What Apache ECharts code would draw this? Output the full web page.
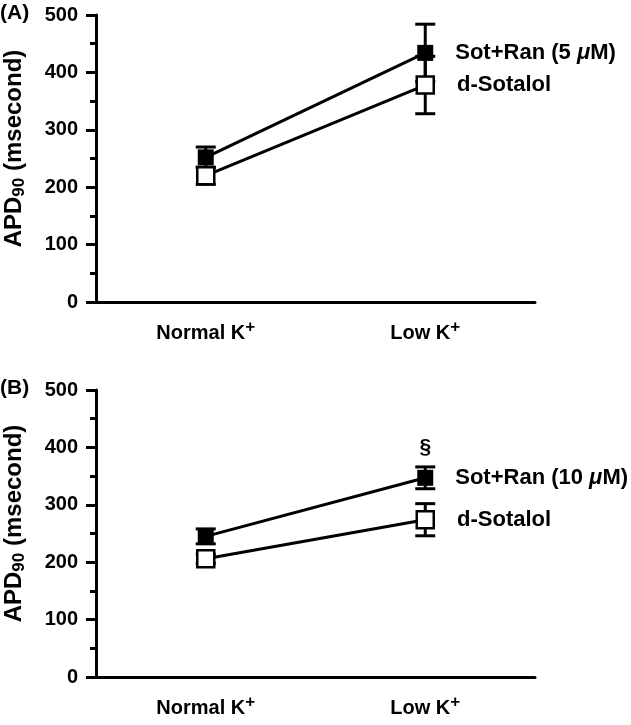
<!DOCTYPE html>
<html>
<head>
<meta charset="utf-8">
<script src="https://cdn.jsdelivr.net/npm/echarts@6/dist/echarts.min.js"></script>
<style>
html,body{margin:0;padding:0;background:#fff}
#main{width:631px;height:725px}
</style>
</head>
<body>
<div id="main"></div>
<script>
// 数据
var categories = ['Normal K+', 'Low K+'];
var sotRan5 = [252, 434];
var sotRan5Sem = [18, 50];
var dSotA = [220, 378];
var dSotASem = [15, 50];
var sotRan10 = [245, 347];
var sotRan10Sem = [13, 19];
var dSotB = [206, 274];
var dSotBSem = [8, 28];
var sigB = ['', '§'];

var FONT = 'Liberation Sans, Arial, sans-serif';

// 误差线
function makeErr(gi, means, sems, marks, z){
	var data = means.map(function(m, i){ return [i, m, sems[i]]; });
	return {
		type: 'custom',
		xAxisIndex: gi,
		yAxisIndex: gi,
		z: z,
		silent: true,
		data: data,
		encode: {x: 0, y: 1},
		renderItem: function(params, api){
			var x = api.value(0), m = api.value(1), s = api.value(2);
			var hi = api.coord([x, m + s]);
			var lo = api.coord([x, m - s]);
			var w = 10;
			var st = {stroke: '#000', lineWidth: 3};
			var children = [
				{type: 'line', shape: {x1: hi[0], y1: hi[1], x2: lo[0], y2: lo[1]}, style: st},
				{type: 'line', shape: {x1: hi[0] - w, y1: hi[1], x2: hi[0] + w, y2: hi[1]}, style: st},
				{type: 'line', shape: {x1: lo[0] - w, y1: lo[1], x2: lo[0] + w, y2: lo[1]}, style: st}
			];
			if (marks && marks[params.dataIndex]) {
				children.push({type: 'text', style: {
					text: marks[params.dataIndex], x: hi[0], y: hi[1] - 9,
					align: 'center', verticalAlign: 'bottom',
					fontSize: 21, fontWeight: 'bold', fontFamily: FONT, fill: '#000'
				}});
			}
			return {type: 'group', children: children};
		}
	};
}

// 折线
function makeLine(gi, name, label, vals, filled, z){
	var last = vals.length - 1;
	return {
		type: 'line',
		name: name,
		xAxisIndex: gi,
		yAxisIndex: gi,
		z: z,
		symbol: 'rect',
		symbolSize: filled ? 16 : 17,
		lineStyle: {color: '#000', width: 3},
		itemStyle: filled ? {color: '#000'} : {color: '#fff', borderColor: '#000', borderWidth: 2.5},
		data: vals.map(function(v, i){
			if (i !== last) return v;
			return {value: v, label: {
				show: true, position: 'right', distance: 22,
				formatter: label,
				color: '#000', fontSize: 22, fontWeight: 'bold', fontFamily: FONT,
				rich: {mu: {fontSize: 22, fontWeight: 'bold', fontStyle: 'italic', fontFamily: FONT, color: '#000'}}
			}};
		})
	};
}

function xAx(gi){
	return {
		type: 'category', gridIndex: gi, data: categories, boundaryGap: true,
		axisLine: {lineStyle: {color: '#000', width: 3}},
		axisTick: {alignWithLabel: true, length: 9, lineStyle: {color: '#000', width: 3}},
		axisLabel: {
			margin: 17, color: '#000', fontSize: 20, fontWeight: 'bold', fontFamily: FONT,
			formatter: function(v){ return v.replace('+', '{sup|+}'); },
			rich: {sup: {fontSize: 17, fontWeight: 'bold', fontFamily: FONT, color: '#000', padding: [0, 0, 11, 0]}}
		}
	};
}

function yAx(gi){
	return {
		type: 'value', gridIndex: gi, min: 0, max: 500, interval: 100,
		axisLine: {show: true, lineStyle: {color: '#000', width: 3}},
		axisTick: {show: true, length: 10, lineStyle: {color: '#000', width: 3}},
		minorTick: {show: true, splitNumber: 2, length: 6, lineStyle: {color: '#000', width: 3}},
		splitLine: {show: false},
		minorSplitLine: {show: false},
		axisLabel: {color: '#000', fontSize: 20, fontWeight: 'bold', fontFamily: FONT, margin: 18},
		name: 'APD{sub|90} (msecond)',
		nameLocation: 'middle',
		nameRotate: 90,
		nameGap: 68,
		nameTextStyle: {
			color: '#000', fontSize: 24, fontWeight: 'bold', fontFamily: FONT,
			padding: [0, 0, 0, 20],
			rich: {sub: {fontSize: 17, fontWeight: 'bold', fontFamily: FONT, color: '#000', padding: [10, 0, 0, 0]}}
		}
	};
}

var myChart = echarts.init(document.getElementById('main'));
var option = {
	animation: false,
	backgroundColor: '#fff',
	title: [
		{text: '(A)', left: 0, top: 3, padding: 0, textStyle: {color: '#000', fontSize: 21, fontWeight: 'bold', fontFamily: FONT}},
		{text: '(B)', left: 0, top: 378, padding: 0, textStyle: {color: '#000', fontSize: 21, fontWeight: 'bold', fontFamily: FONT}}
	],
	grid: [
		{left: 96, right: 96, top: 15, height: 287, outerBoundsMode: 'none', containLabel: false},
		{left: 96, right: 96, top: 390, height: 287, outerBoundsMode: 'none', containLabel: false}
	],
	xAxis: [xAx(0), xAx(1)],
	yAxis: [yAx(0), yAx(1)],
	series: [
		makeErr(0, sotRan5, sotRan5Sem, null, 1),
		makeErr(0, dSotA, dSotASem, null, 1),
		makeLine(0, 'Sot+Ran (5 μM)', 'Sot+Ran (5 {mu|μ}M)', sotRan5, true, 2),
		makeLine(0, 'd-Sotalol', 'd-Sotalol', dSotA, false, 3),
		makeErr(1, sotRan10, sotRan10Sem, sigB, 1),
		makeErr(1, dSotB, dSotBSem, null, 1),
		makeLine(1, 'Sot+Ran (10 μM)', 'Sot+Ran (10 {mu|μ}M)', sotRan10, true, 2),
		makeLine(1, 'd-Sotalol', 'd-Sotalol', dSotB, false, 3)
	]
};
myChart.setOption(option);
</script>
</body>
</html>
